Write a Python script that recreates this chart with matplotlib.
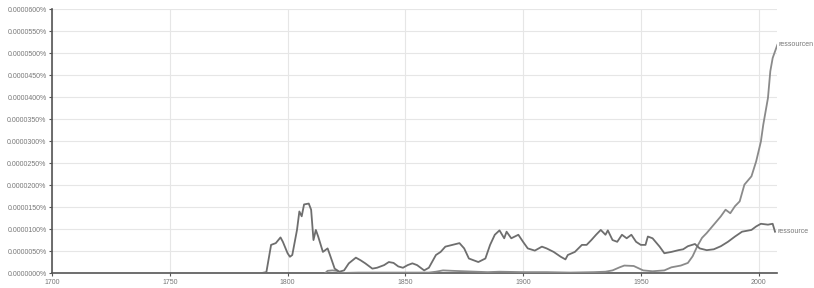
# Частота слов "ressource" / "ressourcen" (Google Ngram), оттенки серого
import matplotlib.pyplot as plt
from matplotlib.ticker import FuncFormatter, MultipleLocator

# значения в единицах 0.0000001 %
ressource_years = [1789, 1791, 1793, 1795, 1797, 1798, 1800, 1801, 1802, 1804, 1805, 1806,
                   1807, 1809, 1810, 1811, 1812, 1813, 1815, 1817, 1818, 1820, 1822, 1824,
                   1826, 1829, 1831, 1833, 1836, 1838, 1841, 1843, 1845, 1847, 1849, 1851,
                   1853, 1855, 1858, 1860, 1863, 1865, 1867, 1870, 1873, 1875, 1877, 1881,
                   1884, 1886, 1888, 1890, 1892, 1893, 1895, 1898, 1900, 1902, 1905, 1908,
                   1910, 1913, 1916, 1918, 1919, 1922, 1925, 1927, 1929, 1931, 1933, 1935,
                   1936, 1938, 1940, 1942, 1944, 1946, 1948, 1950, 1952, 1953, 1955, 1958,
                   1960, 1963, 1966, 1968, 1970, 1973, 1975, 1978, 1981, 1984, 1987, 1990,
                   1993, 1997, 1999, 2001, 2004, 2006, 2007]
ressource_vals = [0, 2, 64, 68, 81, 71, 45, 37, 41, 98, 140, 129,
                  156, 158, 144, 75, 98, 83, 48, 56, 41, 10, 3, 6,
                  22, 35, 29, 22, 10, 12, 18, 25, 23, 15, 12, 18,
                  22, 18, 6, 12, 41, 48, 60, 64, 68, 56, 33, 25,
                  33, 64, 87, 97, 79, 94, 79, 87, 71, 56, 51, 60,
                  56, 48, 37, 31, 41, 48, 64, 64, 75, 87, 98, 87,
                  97, 75, 71, 87, 79, 87, 71, 64, 64, 83, 79, 60,
                  45, 48, 52, 54, 61, 66, 56, 52, 54, 61, 71, 83,
                  94, 98, 106, 112, 110, 112, 94]

ressourcen_years = [1816, 1817, 1819, 1821, 1822, 1830, 1840, 1850, 1860, 1863, 1866, 1870,
                    1875, 1880, 1885, 1890, 1900, 1910, 1920, 1930, 1935, 1938, 1941, 1943,
                    1947, 1951, 1955, 1960, 1963, 1967, 1970, 1972, 1974, 1976, 1978, 1981,
                    1984, 1986, 1988, 1990, 1992, 1994, 1997, 1999, 2001, 2002, 2004, 2005,
                    2006, 2008]
ressourcen_vals = [0, 5, 6, 5, 0, 1, 1, 1, 1, 3, 6, 5,
                   4, 3, 2, 3, 2, 2, 1, 2, 3, 6, 13, 17,
                   16, 6, 4, 6, 13, 17, 23, 38, 61, 80, 91, 110,
                   129, 144, 136, 152, 163, 201, 220, 254, 299, 337, 398, 459,
                   489, 519]

y_ticks = list(range(0, 601, 50))
x_ticks = [1700, 1750, 1800, 1850, 1900, 1950, 2000]

SCALE = 1e-7  # в проценты


def main():
    fig = plt.figure(figsize=(8.14, 2.88), dpi=100)
    ax = fig.add_axes([0.064, 0.052, 0.891, 0.916])

    ax.plot(ressourcen_years, [v * SCALE for v in ressourcen_vals],
            color="#8a8a8a", lw=1.3, zorder=3)
    ax.plot(ressource_years, [v * SCALE for v in ressource_vals],
            color="#6e6e6e", lw=1.3, zorder=4)

    ax.set_xlim(1700, 2008)
    ax.set_ylim(0, 600 * SCALE)
    ax.set_xticks(x_ticks)
    ax.set_yticks([t * SCALE for t in y_ticks])
    ax.yaxis.set_major_formatter(FuncFormatter(lambda v, p: f"{v:.7f}%"))

    ax.grid(True, color="#e6e6e6", lw=0.8, zorder=0)
    ax.set_axisbelow(True)

    for side in ("top", "right"):
        ax.spines[side].set_visible(False)
    for side in ("left", "bottom"):
        ax.spines[side].set_color("#555555")
        ax.spines[side].set_linewidth(1.2)

    ax.tick_params(axis="both", labelsize=5, colors="#555555", labelcolor="#777777",
                   length=2.5, width=0.8, pad=1.5)
    for lbl in ax.get_xticklabels() + ax.get_yticklabels():
        lbl.set_family("Liberation Sans")

    # подписи серий у правого края
    ax.text(ressourcen_years[-1] + 0.5, ressourcen_vals[-1] * SCALE, "ressourcen",
            fontsize=5, color="#777777", va="center", ha="left",
            family="Liberation Sans", clip_on=False)
    ax.text(ressource_years[-1] + 1, ressource_vals[-1] * SCALE, "ressource",
            fontsize=5, color="#777777", va="center", ha="left",
            family="Liberation Sans", clip_on=False)

    plt.savefig("out.png", dpi=100)
    plt.close()


if __name__ == "__main__":
    main()
